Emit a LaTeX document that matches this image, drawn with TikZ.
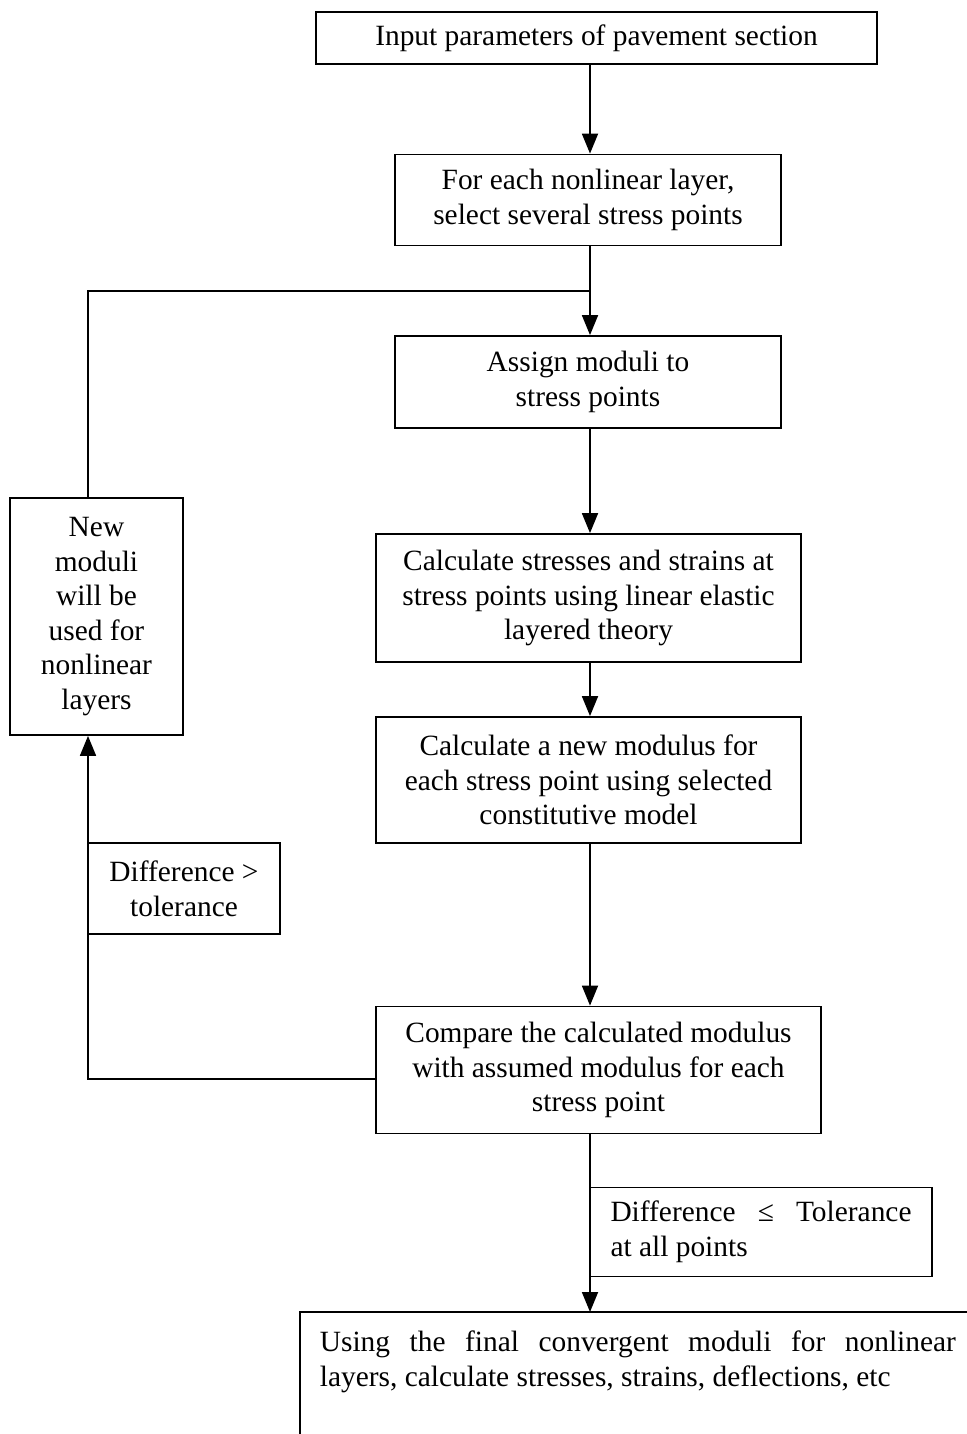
\documentclass[tikz,border=0pt]{standalone}
\usepackage{fontspec}
\setmainfont{Liberation Serif}
\usetikzlibrary{arrows.meta}
\begin{document}
\begin{tikzpicture}[x=0.5pt,y=-0.5pt,
  font=\fontsize{14.7pt}{17.3pt}\selectfont,
  line width=0.9pt,
  box/.style={draw, inner sep=0pt, align=center},
  arr/.style={-{Triangle[length=10pt,width=8pt]}}]
\useasboundingbox (0,0) rectangle (967,1434);
\coordinate (spine) at (590,0);
\coordinate (loopx) at (88,0);
% main boxes
\node[box, minimum width=280.5pt, minimum height=26pt] (input) at (596.5,38) {Input parameters of pavement section};
\node[box, minimum width=193pt, minimum height=45.5pt] (foreach) at (588,200) {For each nonlinear layer,\\select several stress points};
\node[box, minimum width=193pt, minimum height=46pt] (assign) at (588,382) {Assign moduli to\\stress points};
\node[box, minimum width=212.5pt, minimum height=64pt] (calc) at (588.5,598) {Calculate stresses and strains at\\stress points using linear elastic\\layered theory};
\node[box, minimum width=212.5pt, minimum height=63pt] (newmod) at (588.5,780) {Calculate a new modulus for\\each stress point using selected\\constitutive model};
\node[box, minimum width=222.5pt, minimum height=63.5pt] (compare) at (598.5,1070) {Compare the calculated modulus\\with assumed modulus for each\\stress point};
\node[box, minimum width=86.5pt, minimum height=118.5pt] (newmoduli) at (96.5,616.5) {New\\moduli\\will be\\used for\\nonlinear\\layers};
% condition labels
\node[box, minimum width=96pt, minimum height=45.5pt] (diffgt) at (184,888.5) {Difference >\\tolerance};
\node[box, minimum width=171pt, minimum height=44.5pt, align=left] (diffle) at (761,1232) {\makebox[150.5pt][s]{Difference ≤ Tolerance}\\at all points};
% final box (cut off by the page edge)
\coordinate (finaltop) at (590,1312);
\draw (300,1434) -- (300,1312) -- (967,1312);
\node[anchor=west, align=left, inner sep=0pt] (final) at (319,1362) {\makebox[318pt][s]{Using the final convergent moduli for nonlinear}\\layers, calculate stresses, strains, deflections, etc};
% connectors
\draw[arr] (input.south -| spine) -- (foreach.north -| spine);
\draw[arr] (foreach.south -| spine) -- (assign.north -| spine);
\draw[arr] (assign.south -| spine) -- (calc.north -| spine);
\draw[arr] (calc.south -| spine) -- (newmod.north -| spine);
\draw[arr] (newmod.south -| spine) -- (compare.north -| spine);
\draw[arr] (compare.south -| spine) -- (finaltop);
\coordinate (join) at (590,291);
\draw (newmoduli.north -| loopx) -- (join -| loopx) -- (join);
\coordinate (back) at ([yshift=-4.5pt]compare.west);
\draw[arr] (back) -- (back -| loopx) -- (newmoduli.south -| loopx);
\end{tikzpicture}
\end{document}
